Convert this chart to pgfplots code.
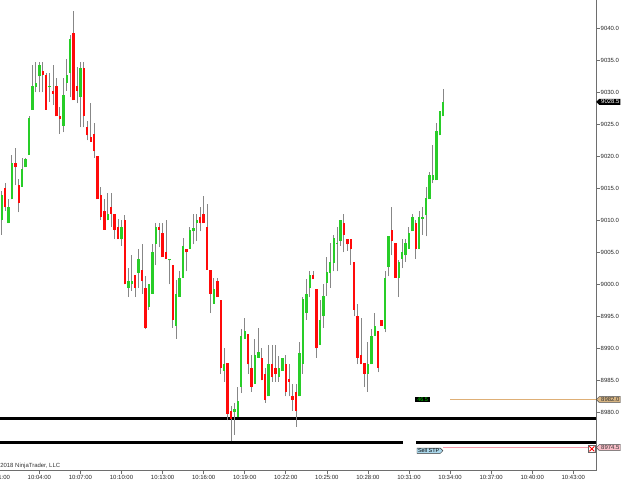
\documentclass[border=0pt]{standalone}
\usepackage{pgfplots}
\pgfplotsset{compat=1.18}
\usepackage{pgfplotstable}
\usepackage{fontspec}
\setmainfont{Liberation Sans}
\usetikzlibrary{shapes.symbols}
\definecolor{upg}{RGB}{40,205,40}
\definecolor{dnr}{RGB}{255,10,10}
\definecolor{wickc}{RGB}{135,135,135}
\definecolor{axgray}{RGB}{110,110,110}
\definecolor{tanline}{RGB}{222,175,118}
\definecolor{tanfill}{RGB}{215,180,130}
\definecolor{pinkline}{RGB}{248,155,172}
\definecolor{pinkfill}{RGB}{250,190,200}
\definecolor{stpblue}{RGB}{170,215,235}
\definecolor{lbl}{RGB}{0,210,0}

% up (green) bars: time in minutes after 10:00, open high low close
\pgfplotstableread{
t o h l c
1.25 9010 9014.5 9007.75 9014
1.75 9009.5 9013.25 9009.5 9012
2.00 9013.25 9020.25 9013.25 9019
2.75 9015.25 9019.75 9015.25 9018
3.00 9018.25 9019.75 9018.25 9019.5
3.25 9020.25 9026.25 9020.25 9026
3.50 9027.25 9034.25 9027.25 9031
3.75 9030.75 9034.75 9030 9031.5
4.00 9032.5 9034.75 9030 9034.25
4.75 9030.75 9033 9028.5 9031
5.75 9024.75 9032.25 9023.75 9029.5
6.00 9031.5 9035.25 9030.25 9032.75
6.25 9033 9039 9029.25 9038.25
7.00 9029.25 9034.75 9024.5 9033.75
9.00 9010 9014.25 9010 9011
10.00 9007 9010 9006 9009
10.50 8999.5 9002.5 8998 9000.5
10.75 9000 9004.5 8999 9000.5
11.25 9001.75 9005.5 8999.5 9004
12.00 8996.5 9000 8996 9000
12.25 8998.5 9006.25 8998.5 9005
12.50 9006.25 9009.5 9003 9009
13.50 9003.75 9004 9000 9004
14.00 8993.5 9000.75 8991.5 8998.5
14.25 8998 9002 8998 9001
14.50 9001 9007.25 9001 9006
15.00 9005.5 9009 9005.5 9008.5
15.25 9008.25 9011 9006.25 9008.75
15.50 9009.5 9011 9006.75 9010
16.75 8997 9001 8997 8999.25
17.50 8986.5 8990 8984.75 8987.5
18.25 8980 8981.5 8976.5 8980.5
18.50 8979.25 8984 8979.25 8981.75
18.75 8984 8993 8983 8992
19.00 8991.5 8994.75 8991.5 8992.75
19.75 8984.5 8991.5 8984.5 8989
20.00 8988.5 8993.25 8988.5 8989.5
20.75 8982.5 8990.5 8982.5 8987.5
21.50 8985.5 8988.75 8984.75 8987
21.75 8986.5 8988.5 8986.5 8988.5
23.00 8982.5 8991 8982.5 8989.25
23.25 8987.5 8998 8986 8997.75
23.50 8995.5 9000.75 8994.5 8998.5
23.75 8999.5 9002 8998 9001.5
24.50 8990.5 8997.5 8990.5 8994.5
24.75 8995 9000 8993.25 8998.25
25.00 9000.25 9004.25 8998.25 9002
25.25 9001.75 9006.5 8999.5 9003.5
25.50 9003.25 9007.75 9002 9007.25
25.75 9006.25 9009 9002 9006.5
26.00 9006.75 9010 9006 9010
28.00 8986 8991 8983.25 8987.5
28.25 8987.5 8993 8987.5 8992
28.50 8992 8995.5 8992 8993.5
29.25 8993 9002 8992.5 9001
29.50 9002.75 9007.5 9001.25 9007.5
30.25 9001 9003.75 8998 9003.5
30.50 9004 9007 9002.5 9005
30.75 9004.5 9007 9003.5 9006.5
31.00 9005.5 9009 9005.5 9008
31.25 9008.25 9011 9008.25 9010.5
31.75 9005.5 9011.5 9005.5 9010.5
32.00 9010.25 9012 9007.75 9010.5
32.25 9010.75 9015.25 9007.5 9013.5
32.50 9013.25 9017.5 9013.25 9017
32.75 9016.25 9021.75 9015.75 9017
33.00 9016.25 9025.25 9016.25 9024
33.25 9023.25 9027 9023.25 9027
33.50 9026.25 9030.5 9026.25 9028.5
}\upbars

% down (red) bars
\pgfplotstableread{
t o h l c
1.00 9012 9013.25 9009.25 9010.5
1.50 9015 9015.75 9011.5 9012
2.25 9019 9021.25 9015.5 9018.25
2.50 9015.5 9016.5 9011.25 9012.75
4.25 9033.25 9034.75 9030 9032.75
4.50 9032.75 9033 9027.25 9027.25
5.00 9030.25 9034.25 9028 9029.75
5.25 9031 9032.25 9026.25 9026.25
5.50 9026.25 9027.75 9023.5 9025.75
6.50 9039.25 9042.75 9028.75 9028.75
6.75 9031 9034 9028.25 9030.25
7.25 9033.75 9034.75 9024.5 9026.25
7.50 9024.5 9025.5 9022.5 9023.25
7.75 9023 9028.25 9022.25 9022.25
8.00 9023.5 9025.25 9019.75 9020.75
8.25 9020 9020 9013.25 9013.25
8.50 9014 9015.25 9010 9010.5
8.75 9011.5 9013.25 9008.5 9008.5
9.25 9012 9014.25 9009 9011
9.50 9011 9011 9007 9008.5
9.75 9009 9010.25 9007 9007
10.25 9010 9010.75 9000 9000
11.00 9001.5 9001.5 8998 8999.5
11.50 9002.25 9006.25 8998.5 9000.5
11.75 8999.5 9001.25 8993 8993.25
12.75 9009 9009.5 9005.75 9008.5
13.00 9008 9009.5 9004.25 9004.25
13.25 9005 9010 9004 9004
13.75 9003 9003 8993.25 8994.5
14.75 9005.5 9005.5 9002 9005
15.75 9010.5 9012 9008.25 9009.5
16.00 9011 9013.75 9009.5 9009.5
16.25 9009 9012.5 9002.25 9002.25
16.50 9002.25 9002.25 8995.5 8998.5
17.00 9000.5 9001 8998 8998
17.25 8997.5 8997.5 8986 8987
17.75 8987.75 8987.75 8978.75 8979.75
18.00 8980.25 8981 8975.5 8979
19.25 8992.25 8992.25 8986 8987.5
19.50 8987 8989 8983.25 8984
20.25 8988.5 8990 8985 8985
20.50 8986 8987 8981.5 8982
21.00 8987.5 8990.5 8984.75 8985.5
21.25 8987 8990.5 8984.75 8986
22.00 8987.5 8989 8982.5 8983.25
22.25 8985.25 8987.5 8982.5 8984.75
22.50 8982.5 8984.5 8980.25 8982
22.75 8983.25 8984.5 8977.75 8980.25
24.00 9001.5 9002 9000.75 9000.75
24.25 8999.25 8999.25 8988.5 8990
26.25 9009.5 9011 9005 9007.75
26.50 9007 9007 9005.25 9006.25
26.75 9007 9007 9003 9005.5
27.00 9003.5 9003.5 8995 8996
27.25 8995 8997 8987.5 8988.5
27.50 8989 8994.75 8987.5 8987.5
27.75 8987.75 8987.75 8984 8986
28.75 8992.75 8992.75 8986.25 8987
29.00 8994.5 8994.5 8993.5 8993.5
29.75 9008.5 9012 9004.5 9006.75
30.00 9006.5 9006.5 9001 9001
31.50 9009.5 9010 9004 9005.5
}\dnbars

\pgfplotsset{
  candle/.style={only marks, mark=*, mark size=0pt,
    mark options={draw=none, fill=none, draw opacity=0, fill opacity=0},
    error bars/.cd, y dir=plus, y explicit, error mark=none,
    error bar style={#1}},
}

\begin{document}
\begin{tikzpicture}
\useasboundingbox (0,0) rectangle (625bp,488bp);
\begin{axis}[
  at={(-1.7bp,17bp)}, anchor=south west,
  scale only axis, width=597.7bp, height=471bp,
  xmin=1, xmax=44.66, ymin=8970.83, ymax=9044.42,
  enlarge x limits=false, enlarge y limits=false,
  axis x line=bottom, axis y line=right,
  axis line style={-, axgray, line width=1bp},
  every outer x axis line/.append style={-},
  every outer y axis line/.append style={-},
  clip=false,
  tick align=outside, major tick length=3.5bp,
  tick style={axgray, line width=0.7bp},
  xtick={1,4,...,43},
  xticklabels={10:01:00,10:04:00,10:07:00,10:10:00,10:13:00,10:16:00,10:19:00,10:22:00,10:25:00,10:28:00,10:31:00,10:34:00,10:37:00,10:40:00,10:43:00},
  ytick={8980,8985,...,9040},
  scaled y ticks=false,
  /pgf/number format/fixed,
  /pgf/number format/fixed zerofill,
  /pgf/number format/precision=1,
  /pgf/number format/1000 sep={},
  /pgf/number format/assume math mode=true,
  tick label style={font=\fontsize{6}{7}\selectfont, text=black!85},
  xticklabel style={inner sep=1bp},
  yticklabel style={inner xsep=1bp},
]
% horizontal drawn lines
\addplot[black, line width=2.6bp] coordinates {(1,8979) (44.66,8979)};
\addplot[black, line width=2.6bp] coordinates {(1,8975.25) (30.57,8975.25)};
\addplot[black, line width=2.6bp] coordinates {(31.52,8975.25) (44.66,8975.25)};
\addplot[tanline, line width=1.1bp] coordinates {(34.0,8982) (44.66,8982)};
\addplot[pinkline, line width=1.1bp] coordinates {(33.5,8974.45) (44.1,8974.45)};

% wicks
\addplot[candle={draw=wickc, line width=1bp}]
  table[x=t, y=l, y error expr=\thisrow{h}-\thisrow{l}] {\upbars};
\addplot[candle={draw=wickc, line width=1bp}]
  table[x=t, y=l, y error expr=\thisrow{h}-\thisrow{l}] {\dnbars};
% bodies
\addplot[candle={draw=upg, line width=2.4bp}]
  table[x=t, y=o, y error expr=\thisrow{c}-\thisrow{o}] {\upbars};
\addplot[candle={draw=dnr, line width=2.4bp}]
  table[x=t, y=c, y error expr=\thisrow{o}-\thisrow{c}] {\dnbars};

% labels
\node[fill=black, text=lbl, font=\fontsize{5.5}{6}\selectfont, inner xsep=2bp, inner ysep=0.8bp, anchor=west]
  at (axis cs:31.45,8982) {46.5};
\node[signal, signal to=east, draw=black!80, line width=0.4bp, fill=stpblue, text=black,
  font=\fontsize{5.5}{6}\selectfont, inner xsep=1bp, inner ysep=0.6bp, anchor=east]
  at (axis cs:33.5,8974.0) {Sell STP};
\node[draw=black!60, fill=white, minimum size=7bp, inner sep=0pt, line width=0.4bp,
  path picture={\draw[red, line width=0.9bp]
   ([shift={(1bp,1bp)}]path picture bounding box.south west) -- ([shift={(-1bp,-1bp)}]path picture bounding box.north east)
   ([shift={(1bp,-1bp)}]path picture bounding box.north west) -- ([shift={(-1bp,1bp)}]path picture bounding box.south east);}]
  at (axis cs:44.36,8974.3) {};
% right price markers
\node[signal, signal to=west, fill=black, text=white, font=\fontsize{6}{7}\selectfont,
  inner xsep=1bp, inner ysep=0.8bp, anchor=west] at (axis cs:44.66,9028.5) {\,9028.5};
\node[signal, signal to=west, draw=black!70, line width=0.4bp, fill=tanfill, text=black!80, font=\fontsize{6}{7}\selectfont,
  inner xsep=1bp, inner ysep=0.8bp, anchor=west] at (axis cs:44.66,8982) {\,8982.0};
\node[signal, signal to=west, draw=black!70, line width=0.4bp, fill=pinkfill, text=black!80, font=\fontsize{6}{7}\selectfont,
  inner xsep=1bp, inner ysep=0.8bp, anchor=west] at (axis cs:44.66,8974.5) {\,8974.5};
% copyright
\node[anchor=south west, font=\fontsize{6}{7}\selectfont, text=black!80, inner sep=0pt]
  at (axis cs:1.13,8971.2) {2018 NinjaTrader, LLC};
\end{axis}
\end{tikzpicture}
\end{document}
